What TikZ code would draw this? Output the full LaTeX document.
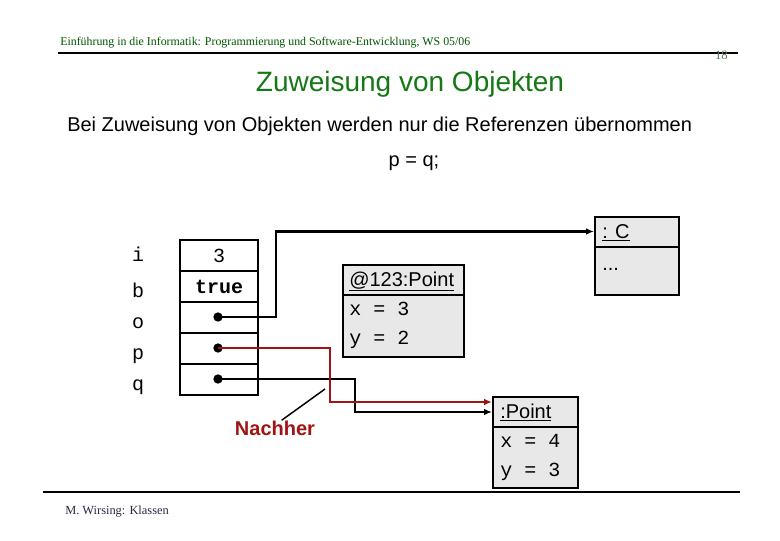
\documentclass[tikz,border=0pt]{standalone}
\usepackage{fontspec}
\setmainfont{Liberation Sans}
\setmonofont{Liberation Mono}
\newfontfamily\hdrfont{Liberation Serif}
\usetikzlibrary{arrows.meta}
\definecolor{titlegreen}{RGB}{20,120,20}
\definecolor{hdrgreen}{RGB}{0,85,0}
\definecolor{pggreen}{RGB}{90,115,90}
\definecolor{boxgray}{RGB}{232,232,232}
\definecolor{refred}{RGB}{160,20,20}
\definecolor{footblue}{RGB}{40,40,70}
\begin{document}
\begin{tikzpicture}[x=0.75pt,y=-0.75pt,
  body/.style={font=\fontsize{15}{18}\selectfont, inner sep=0pt},
  mono/.style={font=\fontsize{15}{18}\selectfont\ttfamily, inner sep=0pt},
  cell/.style={draw, line width=0.9pt, minimum width=58.5pt, minimum height=23.25pt, inner sep=0pt, font=\fontsize{15}{18}\selectfont\ttfamily},
  objbox/.style={draw, line width=1.7pt, fill=boxgray, inner sep=0pt, anchor=north west},
  divider/.style={line width=1.6pt},
  refdot/.style={circle, fill=black, inner sep=0pt, minimum size=7pt},
  conn/.style={line width=1.6pt, -{Latex[length=6pt,width=5pt]}},
]
\fill[white] (0,0) rectangle (780,540);
\useasboundingbox (0,0) rectangle (780,540);

% header
\node[anchor=base west, inner sep=0pt, font=\hdrfont\fontsize{8.9}{10}\selectfont, text=hdrgreen] (hdr) at (60,45) {Einführung in die Informatik: Programmierung und Software-Entwicklung, WS 05/06};
\draw[line width=1.5pt] (58,53) -- (738,53);
\node[anchor=base east, inner sep=0pt, font=\hdrfont\fontsize{9.5}{10}\selectfont, text=pggreen] (pg) at (728,59) {18};

% title and text
\node[anchor=base, inner sep=0pt, font=\fontsize{21}{24}\selectfont, text=titlegreen] (title) at (410,91) {Zuweisung von Objekten};
\node[body, anchor=base west] (intro) at (67,131) {Bei Zuweisung von Objekten werden nur die Referenzen übernommen};
\node[body, anchor=base] (assign) at (414,166) {p = q;};

% variable labels
\node[mono, anchor=base] (li) at (138,261) {i};
\node[mono, anchor=base] (lb) at (138,297) {b};
\node[mono, anchor=base] (lo) at (138,328) {o};
\node[mono, anchor=base] (lp) at (138,359) {p};
\node[mono, anchor=base] (lq) at (138,390) {q};

% variable table
\node[cell] (vi) at (219,255.5) {3};
\node[cell] (vb) at (219,286.5) {\textbf{true}};
\node[cell] (vo) at (219,317.5) {};
\node[cell] (vp) at (219,348.5) {};
\node[cell] (vq) at (219,379.5) {};
\node[refdot] (dotO) at (218,317) {};
\node[refdot] (dotP) at (218,348) {};
\node[refdot] (dotQ) at (218,379) {};

% object :C
\node[objbox, minimum width=63pt, minimum height=58.5pt] (C) at (594,216) {};
\draw[divider] ([yshift=-23.25pt]C.north west) -- ([yshift=-23.25pt]C.north east);
\node[body, anchor=base west] (Ct) at (602,238) {\underline{: C}};
\node[body, anchor=base west] (Cd) at (602,270) {...};
\coordinate (Cin) at ([yshift=-11.6pt]C.north west);

% object @123:Point
\node[objbox, minimum width=90.75pt, minimum height=69pt] (P1) at (342,264) {};
\draw[divider] ([yshift=-23.25pt]P1.north west) -- ([yshift=-23.25pt]P1.north east);
\node[body, anchor=base west] (P1t) at (349,286) {\underline{@123:Point}};
\node[mono, anchor=base west] (P1x) at (349,315) {x = 3};
\node[mono, anchor=base west] (P1y) at (349,344) {y = 2};

% object :Point
\node[objbox, minimum width=63.75pt, minimum height=68.25pt] (P2) at (492,396) {};
\draw[divider] ([yshift=-23.25pt]P2.north west) -- ([yshift=-23.25pt]P2.north east);
\node[body, anchor=base west] (P2t) at (500,418) {\underline{:Point}};
\node[mono, anchor=base west] (P2x) at (500,447) {x = 4};
\node[mono, anchor=base west] (P2y) at (500,476) {y = 3};
\coordinate (P2r) at ([yshift=-4.5pt]P2.north west);
\coordinate (P2b) at ([yshift=-12pt]P2.north west);

% connectors
\draw[conn] (dotO.center) -- ++(58,0) |- (Cin);
\draw[conn] (dotQ.center) -- ++(137,0) |- (P2b);
\draw[conn, draw=refred, -{Latex[length=6pt,width=5pt,fill=refred]}] (dotP.center) -- ++(112,0) |- (P2r);

% Nachher label
\node[anchor=base, inner sep=0pt, font=\bfseries\fontsize{15}{18}\selectfont, text=refred] (nach) at (275,435) {Nachher};
\coordinate (ntip) at (325,389);
\draw[line width=1.1pt] ([xshift=5pt]nach.north) -- (ntip);

% footer
\draw[line width=1.8pt] (43,492) -- (740,492);
\node[anchor=base west, inner sep=0pt, font=\hdrfont\fontsize{9.3}{10}\selectfont, text=footblue] (ft) at (65,514) {M. Wirsing: Klassen};
\end{tikzpicture}
\end{document}
